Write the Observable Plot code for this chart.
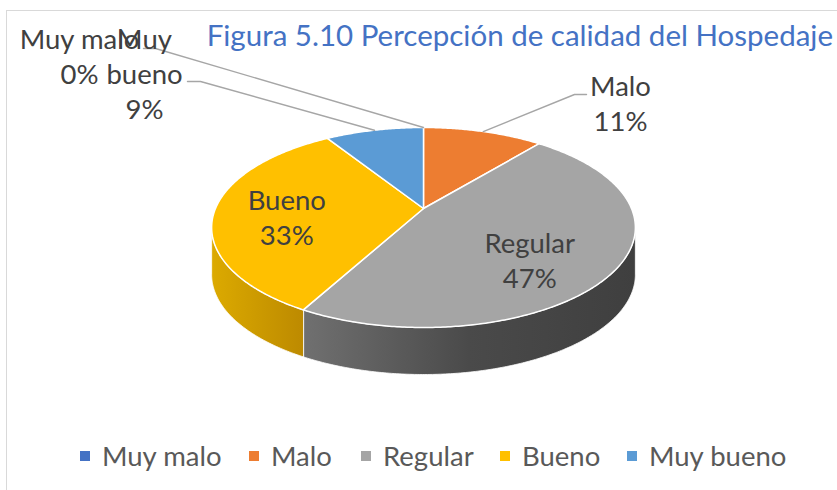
<!DOCTYPE html>
<html>
<head>
<meta charset="utf-8">
<script src="https://cdn.jsdelivr.net/npm/d3@7"></script>
<script src="https://cdn.jsdelivr.net/npm/@observablehq/plot@0.6"></script>
<style>
  html, body { margin: 0; padding: 0; background: #fff; }
  #wrap { position: relative; width: 837px; height: 490px; overflow: hidden; font-family: Lato, "Open Sans", sans-serif; }
  #frame { position: absolute; left: 6px; top: 10px; width: 900px; height: 600px; border-left: 1px solid #d9d9d9; border-top: 1px solid #d9d9d9; }
  #chart { position: absolute; left: 0; top: 0; }
  #title { position: absolute; right: 4px; top: 20px; font-size: 29.5px; color: #4472C4; white-space: nowrap; line-height: 1; }
  #legend { position: absolute; left: 0; top: 442px; width: 837px; height: 30px; font-size: 27.5px; color: #595959; line-height: 1; white-space: nowrap; }
  #legend .item { position: absolute; top: 0; display: flex; align-items: center; }
  #legend .sw { width: 10px; height: 10px; margin-right: 12px; }
</style>
</head>
<body>
<div id="wrap">
  <div id="frame"></div>
  <div id="chart"></div>
  <div id="title"></div>
  <div id="legend"></div>
</div>
<script>
// ---- data ----
const titleText = "Figura 5.10 Percepción de calidad del Hospedaje";
const categories = ["Muy malo", "Malo", "Regular", "Bueno", "Muy bueno"];
const values = [0, 11, 47, 33, 9];
// ---- styles ----
const palette = ["#4472C4", "#ED7D31", "#A5A5A5", "#FFC000", "#5B9BD5"];
const wallGradients = {
  "Regular": ["#707070", "#4a4a4a", "#3f3f3f"],
  "Bueno": ["#dcaa00", "#cc9a00", "#bd8a00"]
};
// ---- layout ----
const W = 837, H = 420;
const G = { cx: 423, cy: 208, a: 208, b: 96.4, p: 0.19, h: 47 };
const FLAT = { cx: 424, cy: 227, a: 212, b: 100 };
const legendLeft = [80, 249, 361, 500, 627];
const insideLayout = {
  "Regular": { r: 0.6, dy: -2 },
  "Bueno": { r: 0.65, dy: -13 }
};
const outsideLayout = {
  "Muy malo": { elbow: [155, 48], end: [143, 48], text: [79, 24], wrap: false },
  "Malo": { elbow: [574, 94], end: [586, 94], text: [620, 71], wrap: false },
  "Muy bueno": { elbow: [200, 81], end: [187, 81], text: [144, 24], wrap: true }
};
const FONT = 27.5, LH = 35 / 27.5;

// ---- geometry from data ----
const total = d3.sum(values);
let acc = 0;
const slices = categories.map((name, i) => {
  const t0 = acc / total * 2 * Math.PI;
  acc += values[i];
  const t1 = acc / total * 2 * Math.PI;
  return { name, value: values[i], pct: Math.round(values[i] / total * 100) + "%", t0, t1, mid: (t0 + t1) / 2, color: palette[i] };
});

function proj(theta, r = 1) {
  const X = r * Math.sin(theta), Z = -r * Math.cos(theta);
  const d = 1 - G.p * Z;
  return [G.cx + G.a * X / d, G.cy + G.b * Z / d];
}
function arc(a, b) {
  const n = Math.max(2, Math.ceil((b - a) / 0.01));
  return d3.range(n + 1).map(k => a + (b - a) * k / n);
}

const topPolys = slices.filter(s => s.t1 > s.t0).map(s => ({
  name: s.name, color: s.color,
  pts: [[G.cx, G.cy], ...arc(s.t0, s.t1).map(t => proj(t))]
}));

const thR = Math.acos(-G.p), thL = 2 * Math.PI - thR;
const walls = slices.map(s => {
  const a = Math.max(s.t0, thR), b = Math.min(s.t1, thL);
  if (!(b > a)) return null;
  const top = arc(a, b).map(t => proj(t));
  const bottom = arc(a, b).reverse().map(t => { const [x, y] = proj(t); return [x, y + G.h]; });
  return { name: s.name, pts: [...top, ...bottom] };
}).filter(Boolean);

const toRows = polys => polys.flatMap(p => p.pts.map(([x, y]) => ({ name: p.name, color: p.color, x, y })));

const leaders = slices.filter(s => outsideLayout[s.name]).flatMap(s => {
  const L = outsideLayout[s.name];
  const [x0, y0] = proj(s.mid);
  return [
    { name: s.name, x: x0, y: y0 },
    { name: s.name, x: L.elbow[0], y: L.elbow[1] },
    { name: s.name, x: L.end[0], y: L.end[1] }
  ];
});
const outsideLabels = slices.filter(s => outsideLayout[s.name]).map(s => {
  const L = outsideLayout[s.name];
  const nm = L.wrap ? s.name.replace(" ", "\n") : s.name;
  return { x: L.text[0], y: L.text[1], text: nm + "\n" + s.pct };
});
const insideLabels = slices.filter(s => insideLayout[s.name]).map(s => {
  const L = insideLayout[s.name];
  const x = FLAT.cx + FLAT.a * L.r * Math.sin(s.mid);
  const y = FLAT.cy - FLAT.b * L.r * Math.cos(s.mid) + L.dy;
  return { x, y, text: s.name + "\n" + s.pct };
});

const wallMarks = walls.map(w => Plot.line(w.pts.map(([x, y]) => ({ x, y })), {
  x: "x", y: "y", curve: "linear-closed",
  fill: `url(#wall-${w.name.replace(/\s/g, "")})`, stroke: "#ffffff", strokeWidth: 1, strokeOpacity: 0.8
}));

const chart = Plot.plot({
  width: W, height: H, margin: 0,
  x: { domain: [0, W], range: [0, W], axis: null },
  y: { domain: [0, H], range: [0, H], axis: null },
  color: { type: "identity" },
  style: { background: "transparent", overflow: "visible", fontFamily: "Lato, 'Open Sans', sans-serif" },
  marks: [
    ...wallMarks,
    Plot.line(toRows(topPolys), { x: "x", y: "y", z: "name", fill: "color", stroke: "#ffffff", strokeWidth: 1.5, curve: "linear-closed", strokeLinejoin: "round" }),
    Plot.line(leaders, { x: "x", y: "y", z: "name", stroke: "#a6a6a6", strokeWidth: 1.4 }),
    Plot.text(insideLabels, { x: "x", y: "y", text: "text", fontSize: FONT, lineHeight: LH, lineAnchor: "middle", fill: "#404040" }),
    Plot.text(outsideLabels, { x: "x", y: "y", text: "text", fontSize: FONT, lineHeight: LH, lineAnchor: "top", fill: "#404040" })
  ]
});

// gradient definitions for the side walls
const ns = "http://www.w3.org/2000/svg";
const defs = document.createElementNS(ns, "defs");
for (const [name, stops] of Object.entries(wallGradients)) {
  const lg = document.createElementNS(ns, "linearGradient");
  lg.setAttribute("id", "wall-" + name.replace(/\s/g, ""));
  lg.setAttribute("x1", "0"); lg.setAttribute("x2", "1"); lg.setAttribute("y1", "0"); lg.setAttribute("y2", "0");
  stops.forEach((c, k) => {
    const st = document.createElementNS(ns, "stop");
    st.setAttribute("offset", k / (stops.length - 1));
    st.setAttribute("stop-color", c);
    lg.appendChild(st);
  });
  defs.appendChild(lg);
}
chart.insertBefore(defs, chart.firstChild);
document.getElementById("chart").appendChild(chart);

document.getElementById("title").textContent = titleText;
const legend = document.getElementById("legend");
slices.forEach((s, i) => {
  const item = document.createElement("div");
  item.className = "item";
  item.style.left = legendLeft[i] + "px";
  const sw = document.createElement("div");
  sw.className = "sw";
  sw.style.background = s.color;
  const lab = document.createElement("span");
  lab.textContent = s.name;
  item.appendChild(sw); item.appendChild(lab);
  legend.appendChild(item);
});
</script>
</body>
</html>
